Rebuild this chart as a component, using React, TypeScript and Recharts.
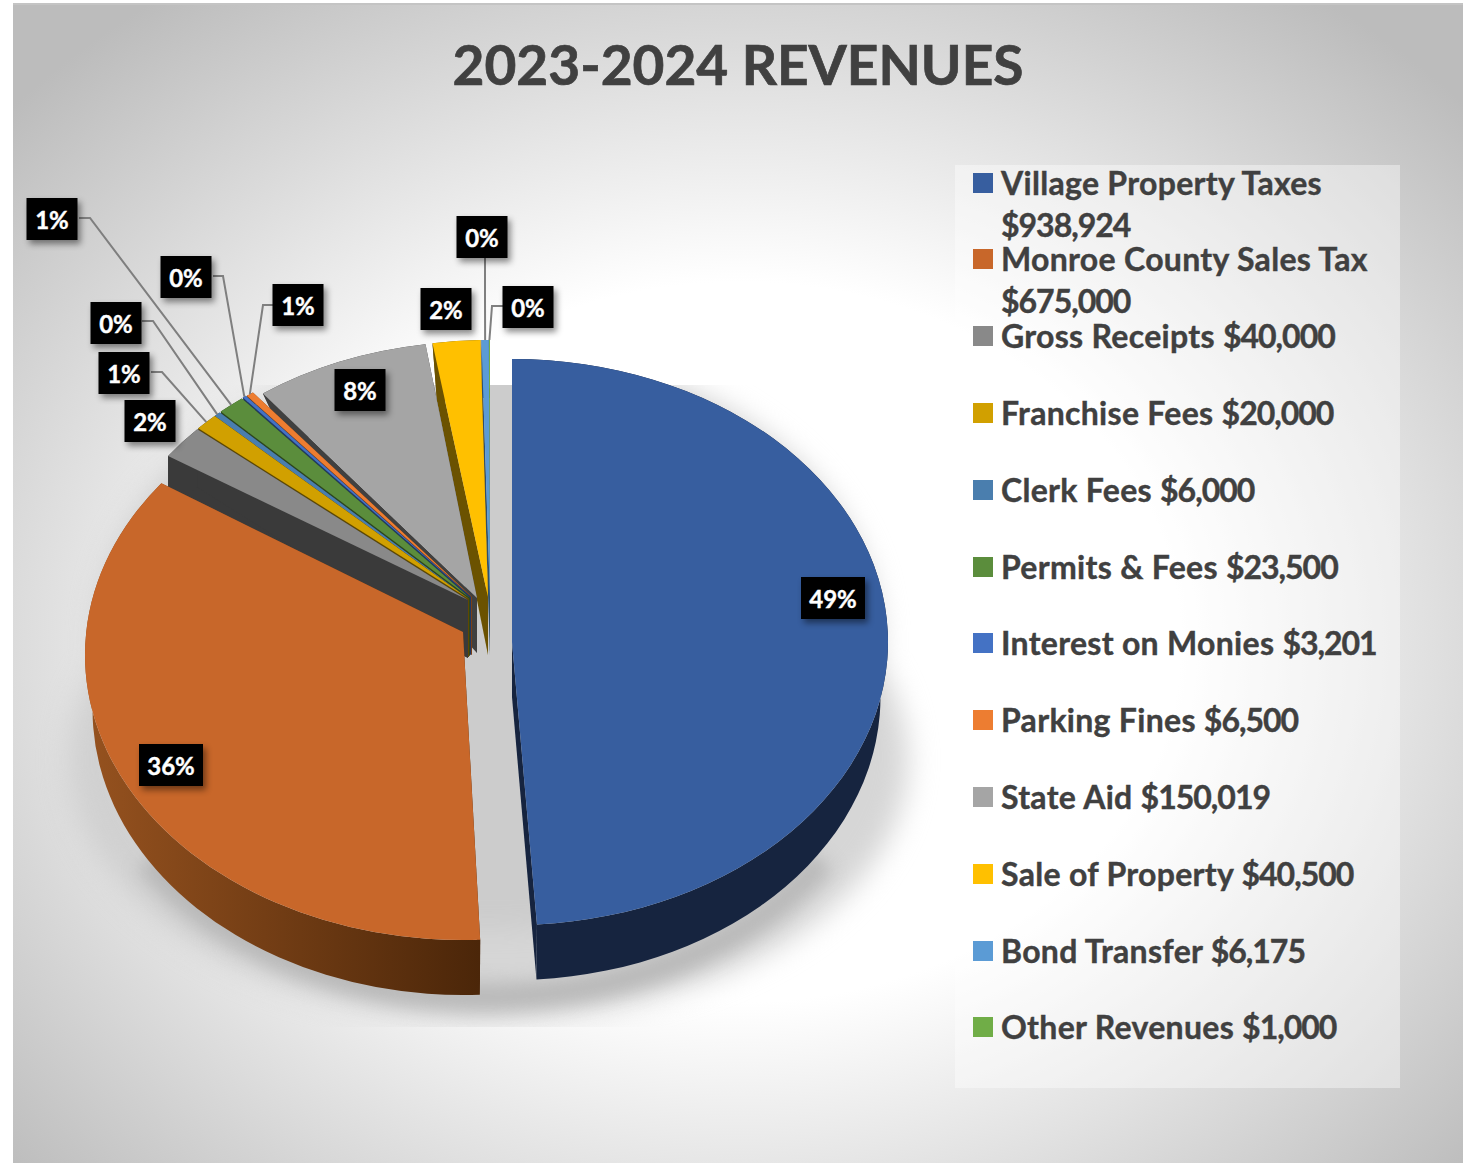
import { PieChart, Pie, Legend } from 'recharts';

const categories = [
  'Village Property Taxes',
  'Monroe County Sales Tax',
  'Gross Receipts',
  'Franchise Fees',
  'Clerk Fees',
  'Permits & Fees',
  'Interest on Monies',
  'Parking Fines',
  'State Aid',
  'Sale of Property',
  'Bond Transfer',
  'Other Revenues',
];
const amounts = [938924, 675000, 40000, 20000, 6000, 23500, 3201, 6500, 150019, 40500, 6175, 1000];
const shownPercents = ['49%', '36%', '2%', '1%', '0%', '1%', '0%', '1%', '8%', '2%', '0%', '0%'];

const faceColors = ['#375e9f', '#c8672a', '#898989', '#d1a000', '#4a7eae', '#5b8d3c', '#4472c4', '#ed7d31', '#a5a5a5', '#ffc000', '#5b9bd5', '#70ad47'];
const wallColors = ['#16243f', 'url(#orangeWall)', '#3a3a3a', '#5f4900', '#22405c', '#2d471d', '#203864', '#7a3f16', '#404040', '#6b5200', '#2e4f6d', '#38572a'];

// exploded position and projection of each slice:
// cx, cy, rx, ry, wall depth, taper of the bottom face, apex x, apex y, twist at start, twist at end
const sliceGeometry = [
  [512, 642, 376, 283, 55, 0.98, 512, 642, 0, -0.7],
  [463, 655, 378, 285, 55, 0.98, 463, 632, 0.5, 3],
  [468, 600, 362, 257, 58, 1, 468, 600, 0, 0],
  [469, 599, 362, 257, 58, 0.99, 469, 599, 0, 0],
  [469, 599, 362, 257, 58, 0.97, 469, 599, 0, 0],
  [470, 598, 362, 257, 58, 0.95, 470, 598, 0, 0],
  [471, 597, 362, 257, 58, 0.93, 471, 597, 0, 0],
  [472, 597, 362, 257, 58, 0.92, 472, 597, 0, 0],
  [482, 598, 362, 257, 55, 0.88, 477, 598, 0, 0],
  [489, 597, 362, 257, 58, 0.92, 488, 597, 0, 0],
  [490, 597, 362, 257, 58, 0.98, 490, 597, 0, 0],
  [490, 597, 362, 257, 58, 0.98, 490, 597, 0, 0],
];

// label box centres, and for leader lines the elbow next to the box
const labelSpots: { x: number; y: number; w?: number; elbow?: [number, number]; from?: [number, number] }[] = [
  { x: 833, y: 598, w: 64 },
  { x: 171, y: 765, w: 64 },
  { x: 150, y: 421 },
  { x: 124, y: 373, from: [151, 372], elbow: [162, 372] },
  { x: 116, y: 323, from: [142, 321], elbow: [153, 321] },
  { x: 52, y: 219, from: [79, 218], elbow: [90, 218] },
  { x: 186, y: 277, from: [213, 276], elbow: [223, 276] },
  { x: 298, y: 305, from: [273, 305], elbow: [263, 305] },
  { x: 360, y: 390 },
  { x: 446, y: 309 },
  { x: 482, y: 237, from: [485, 258], elbow: [485, 300] },
  { x: 528, y: 307, from: [503, 306], elbow: [492, 306] },
];

// painted back to front, so the table runs in reverse and the pie turns the other way
const rows = categories.map((name, i) => ({ name, value: amounts[i] })).reverse();

const FONT = 'Lato, sans-serif';

function clockAngles(startAngle: number, endAngle: number, g: number[]) {
  const a0 = 90 - Math.max(startAngle, endAngle);
  return [a0 + g[8], a0 + Math.abs(endAngle - startAngle) + g[9]];
}

function onFace(g: number[], clock: number, bottom = false) {
  const [cx, cy, rx, ry, depth, taper] = g;
  const rad = (clock * Math.PI) / 180;
  if (bottom) return [cx + rx * taper * Math.sin(rad), cy + depth - ry * Math.cos(rad)];
  return [cx + rx * Math.sin(rad), cy - ry * Math.cos(rad)];
}

function SliceShape(props: any) {
  const i = categories.indexOf(props.name);
  const g = sliceGeometry[i];
  const [a0, a1] = clockAngles(props.startAngle, props.endAngle, g);
  const [, , rx, ry, depth, taper, ax, ay] = g;
  const large = a1 - a0 > 180 ? 1 : 0;
  const t0 = onFace(g, a0);
  const t1 = onFace(g, a1);
  const b0 = onFace(g, a0, true);
  const b1 = onFace(g, a1, true);
  const by = ay + depth;
  const wall = wallColors[i];
  return (
    <g>
      <path d={`M${ax},${ay} L${t0} L${b0} L${ax},${by} Z`} fill={wall} />
      <path d={`M${ax},${ay} L${t1} L${b1} L${ax},${by} Z`} fill={wall} />
      <path
        d={`M${t0} A${rx},${ry} 0 ${large} 1 ${t1} L${b1} A${rx * taper},${ry} 0 ${large} 0 ${b0} Z`}
        fill={wall}
      />
      <path d={`M${ax},${ay} L${t0} A${rx},${ry} 0 ${large} 1 ${t1} Z`} fill={faceColors[i]} />
    </g>
  );
}

function SliceLabel(props: any) {
  const i = categories.indexOf(props.name);
  const spot = labelSpots[i];
  const w = spot.w ?? 51;
  const h = 42;
  const g = sliceGeometry[i];
  const [a0, a1] = clockAngles(props.startAngle, props.endAngle, g);
  const end = onFace(g, (a0 + a1) / 2);
  return (
    <g>
      {spot.from && spot.elbow && (
        <polyline
          points={`${spot.from} ${spot.elbow} ${end}`}
          fill="none"
          stroke="#7f7f7f"
          strokeWidth={2}
        />
      )}
      <rect
        x={spot.x - w / 2}
        y={spot.y - h / 2}
        width={w}
        height={h}
        fill="#000"
        style={{ filter: 'drop-shadow(3px 4px 3px rgba(0,0,0,0.45))' }}
      />
      <text
        x={spot.x}
        y={spot.y + 9.5}
        textAnchor="middle"
        fill="#fff"
        stroke="#fff"
        strokeWidth={0.4}
        fontFamily={FONT}
        fontWeight={700}
        fontSize={24}
      >
        {shownPercents[i]}
      </text>
    </g>
  );
}

function LegendList() {
  return (
    <div style={{ position: 'relative', width: 445, height: 923 }}>
      {categories.map((name, i) => (
        <div
          key={name}
          style={{
            position: 'absolute',
            left: 18,
            top: 0.6 + i * 76.8,
            width: 420,
            display: 'flex',
            alignItems: 'flex-start',
          }}
        >
          <span style={{ width: 20, height: 20, marginTop: 7, marginRight: 8, flex: 'none', background: faceColors[i] }} />
          <span
            style={{
              width: 385,
              fontFamily: FONT,
              fontWeight: 700,
              fontSize: 32,
              letterSpacing: 0.3,
              lineHeight: '42px',
              marginTop: -4,
              color: '#404040',
              WebkitTextStroke: '0.4px #404040',
            }}
          >
            {name} <span style={{ letterSpacing: -1 }}>${amounts[i].toLocaleString('en-US')}</span>
          </span>
        </div>
      ))}
    </div>
  );
}

export default function App() {
  return (
    <div style={{ position: 'absolute', left: 0, top: 0, width: 1470, height: 1163, background: '#fff' }}>
      <div
        style={{
          position: 'absolute',
          left: 13,
          top: 3,
          width: 1450,
          height: 1160,
          borderTop: '2px solid #c4c4c4',
          boxSizing: 'border-box',
          background: 'radial-gradient(ellipse 980px 800px at 727px 637px, #ffffff 45%, #bcbcbc 100%)',
        }}
      />
      <PieChart width={1470} height={1163} style={{ position: 'absolute', left: 0, top: 0 }}>
        <defs>
          <linearGradient id="orangeWall" gradientUnits="userSpaceOnUse" x1={85} y1={0} x2={480} y2={0}>
            <stop offset="0%" stopColor="#96521f" />
            <stop offset="100%" stopColor="#4b2609" />
          </linearGradient>
          <clipPath id="shadowClip">
            <rect x={0} y={385} width={1000} height={642} />
          </clipPath>
        </defs>
        <g clipPath="url(#shadowClip)">
          <g fill="#cccccc" style={{ filter: 'blur(14px)' }}>
            <ellipse cx={488} cy={760} rx={420} ry={258} opacity={0.8} />
            <ellipse cx={488} cy={640} rx={390} ry={290} />
          </g>
          <path
            d="M822,860 A393,283 0 0 1 148,860"
            fill="none"
            stroke="#b2b2b2"
            strokeWidth={28}
            opacity={0.8}
            style={{ filter: 'blur(9px)' }}
          />
        </g>
        <text
          x={738}
          y={85}
          textAnchor="middle"
          fill="#404040"
          stroke="#404040"
          strokeWidth={0.7}
          fontFamily={FONT}
          fontWeight={700}
          fontSize={55}
        >
          2023-2024 REVENUES
        </text>
        <Pie
          data={rows}
          dataKey="value"
          nameKey="name"
          cx={488}
          cy={640}
          outerRadius={300}
          startAngle={90}
          endAngle={450}
          shape={SliceShape}
          label={SliceLabel}
          labelLine={false}
          isAnimationActive={false}
        />
        <Legend
          layout="vertical"
          align="right"
          verticalAlign="top"
          content={LegendList}
          wrapperStyle={{
            position: 'absolute',
            left: 955,
            top: 165,
            width: 445,
            height: 923,
            background: 'rgba(255,255,255,0.4)',
          }}
        />
      </PieChart>
    </div>
  );
}
